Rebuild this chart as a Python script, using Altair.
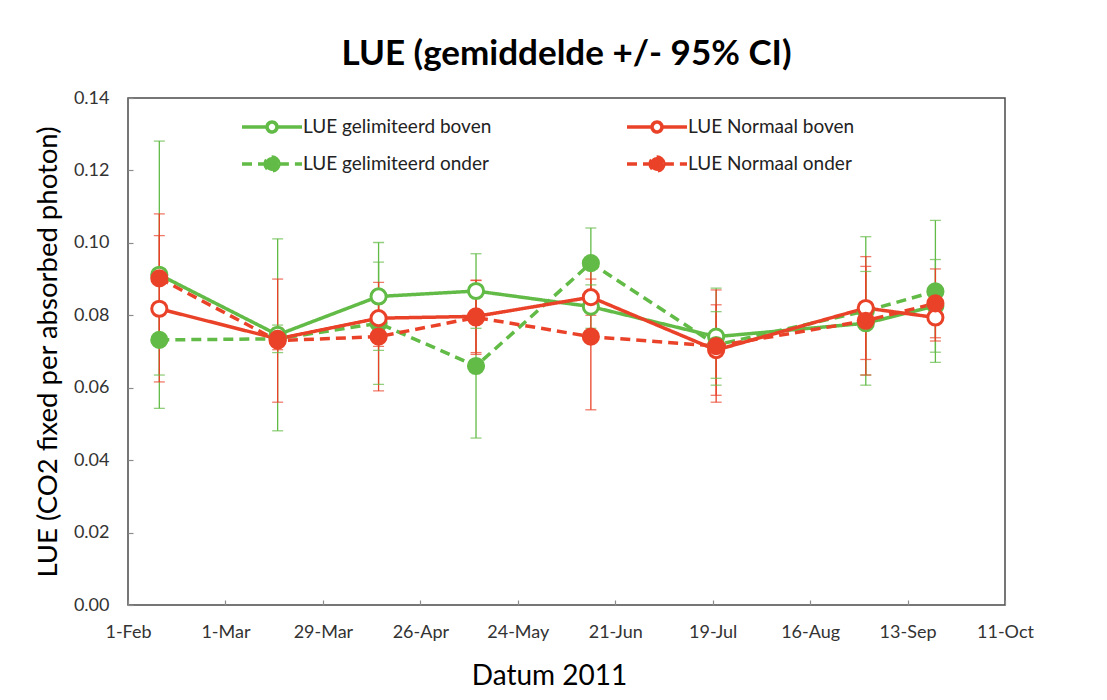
import altair as alt
import pandas as pd

# ---- data ----
dates = ["2011-02-10", "2011-03-16", "2011-04-14", "2011-05-12",
         "2011-06-14", "2011-07-20", "2011-09-01", "2011-09-21"]

series_names = ["LUE gelimiteerd boven", "LUE gelimiteerd onder",
                "LUE Normaal boven", "LUE Normaal onder"]

gel_boven = [0.0912, 0.0746, 0.0852, 0.0867, 0.0824, 0.0741, 0.0778, 0.0826]
gel_boven_ci = [0.0369, 0.0265, 0.0149, 0.0103, 0.0060, 0.0134, 0.0143, 0.0128]

gel_onder = [0.0732, 0.0735, 0.0778, 0.0660, 0.0944, 0.0718, 0.0812, 0.0866]
gel_onder_ci = [0.0097, 0.0038, 0.0169, 0.0199, 0.0097, 0.0092, 0.0205, 0.0196]

norm_boven = [0.0818, 0.0735, 0.0792, 0.0797, 0.0850, 0.0704, 0.0820, 0.0794]
norm_boven_ci = [0.0202, 0.0030, 0.0078, 0.0100, 0.0050, 0.0125, 0.0142, 0.0065]

norm_onder = [0.0902, 0.0730, 0.0741, 0.0794, 0.0741, 0.0715, 0.0785, 0.0833]
norm_onder_ci = [0.0178, 0.0170, 0.0150, 0.0102, 0.0202, 0.0155, 0.0150, 0.0095]

x_tick_dates = [(2, 1), (3, 1), (3, 29), (4, 26), (5, 24), (6, 21),
                (7, 19), (8, 16), (9, 13), (10, 11)]
y_ticks = [0.00, 0.01, 0.02, 0.03, 0.04, 0.05, 0.06, 0.07,
           0.08, 0.09, 0.10, 0.11, 0.12, 0.13, 0.14]

GREEN = "#62BB46"
RED = "#EA4229"
line_colors = [GREEN, GREEN, RED, RED]
fill_colors = ["#ffffff", GREEN, "#ffffff", RED]
dashes = [[1, 0], [10, 6], [1, 0], [10, 6]]

# legend symbols: line with open ring (boven) or filled dot (onder)
RING_LINE = ("M-2,0L-0.333,0M0.333,0L2,0"
             "M0.333,0A0.333,0.333,0,1,1,-0.333,0A0.333,0.333,0,1,1,0.333,0Z"
             "M0.327,0A0.327,0.327,0,1,0,-0.327,0A0.327,0.327,0,1,0,0.327,0Z")
DOT_LINE = ("M-2,0L-0.46,0M0.46,0L2,0"
            "M0.46,0A0.46,0.46,0,1,1,-0.46,0A0.46,0.46,0,1,1,0.46,0Z")
legend_shapes = [RING_LINE, DOT_LINE, RING_LINE, DOT_LINE]

rows = []
for name, vals, cis in zip(series_names,
                           [gel_boven, gel_onder, norm_boven, norm_onder],
                           [gel_boven_ci, gel_onder_ci, norm_boven_ci, norm_onder_ci]):
    for d, v, c in zip(dates, vals, cis):
        rows.append({"series": name, "date": d, "value": v,
                     "lo": v - c, "hi": v + c})
df = pd.DataFrame(rows)

FONT = "Lato"

x_vals = [alt.DateTime(year=2011, month=m, date=d, utc=True) for m, d in x_tick_dates]
x_scale = alt.Scale(type="utc",
                    domain=[alt.DateTime(year=2011, month=2, date=1, utc=True),
                            alt.DateTime(year=2011, month=10, date=11, utc=True)])
y_scale = alt.Scale(domain=[0, 0.14], nice=False, zero=True)

x_axis = alt.Axis(values=x_vals, labelExpr="utcFormat(datum.value, '%-d-%b')",
                  title="Datum 2011", titleFont=FONT, titleFontSize=28,
                  titleFontWeight="normal", titleColor="#000000",
                  titlePadding=21, titleX=421,
                  labelFont=FONT, labelFontSize=18, labelColor="#333333",
                  labelPadding=18, labelFlush=False, labelOverlap=False,
                  grid=False, domain=False, offset=-5,
                  tickColor="#8c8c8c", tickWidth=1.2, tickSize=5)

y_axis = alt.Axis(values=y_ticks,
                  labelExpr="(round(datum.value*100) % 2 == 0) ? format(datum.value, '.2f') : ''",
                  title="LUE (CO2 fixed per absorbed photon)", titleFont=FONT,
                  titleFontSize=27.5, titleFontWeight="normal", titleColor="#000000",
                  titlePadding=11,
                  labelFont=FONT, labelFontSize=18, labelColor="#333333",
                  labelPadding=19, labelFlush=False, labelOverlap=False,
                  grid=False, domain=False, offset=-5,
                  tickColor="#8c8c8c", tickWidth=1.2, tickSize=5)

legend = alt.Legend(
    title=None, orient="none", legendX=127, legendY=12, columns=2,
    symbolType=DOT_LINE, symbolSize=900, symbolStrokeWidth=3.5,
    symbolOpacity=1, labelFont=FONT, labelFontSize=19, labelColor="#222222",
    labelLimit=400, labelOffset=14, columnPadding=128, rowPadding=8)

stroke_enc = alt.Stroke("series:N", scale=alt.Scale(domain=series_names, range=line_colors),
                        legend=legend)
fill_enc = alt.Fill("series:N", scale=alt.Scale(domain=series_names, range=fill_colors),
                    legend=legend)
dash_enc = alt.StrokeDash("series:N", scale=alt.Scale(domain=series_names, range=dashes),
                          legend=legend)
shape_enc = alt.Shape("series:N", scale=alt.Scale(domain=series_names, range=legend_shapes),
                      legend=legend)
cap_color = alt.Color("series:N", scale=alt.Scale(domain=series_names, range=line_colors),
                      legend=None)

base = alt.Chart(df)
x_enc = alt.X("date:T", scale=x_scale, axis=x_axis)

err_rule = base.mark_rule(strokeWidth=1.3).encode(
    x=x_enc, y=alt.Y("lo:Q", scale=y_scale, axis=y_axis), y2="hi:Q",
    stroke=stroke_enc)
err_lo = base.mark_tick(orient="horizontal", size=11, thickness=1.3).encode(
    x=x_enc, y=alt.Y("lo:Q", scale=y_scale), color=cap_color)
err_hi = base.mark_tick(orient="horizontal", size=11, thickness=1.3).encode(
    x=x_enc, y=alt.Y("hi:Q", scale=y_scale), color=cap_color)

lines = base.mark_line(strokeWidth=3.5).encode(
    x=x_enc, y=alt.Y("value:Q", scale=y_scale), stroke=stroke_enc,
    strokeDash=dash_enc)

points = base.mark_point(shape="circle", size=230, strokeWidth=3, opacity=1).encode(
    x=x_enc, y=alt.Y("value:Q", scale=y_scale),
    stroke=stroke_enc, fill=fill_enc)

# invisible layer that only carries the legend's symbol shapes
legend_carrier = base.mark_point(opacity=0, size=1).encode(
    x=x_enc, y=alt.Y("value:Q", scale=y_scale), shape=shape_enc)

chart = alt.layer(err_rule, err_lo, err_hi, lines, points, legend_carrier).properties(
    width=877, height=507,
    title=alt.TitleParams("LUE (gemiddelde +/- 95% CI)", font=FONT, fontSize=35,
                          fontWeight="bold", color="#000000", anchor="middle",
                          frame="group", baseline="alphabetic", offset=-11),
    autosize=alt.AutoSizeParams(type="none"),
    padding={"left": 120, "top": 90, "right": 90, "bottom": 90},
    background="white",
).configure_view(stroke="#4a4a4a", strokeWidth=1.5)

chart.save("out.html", embed_options={"renderer": "svg", "actions": False})
